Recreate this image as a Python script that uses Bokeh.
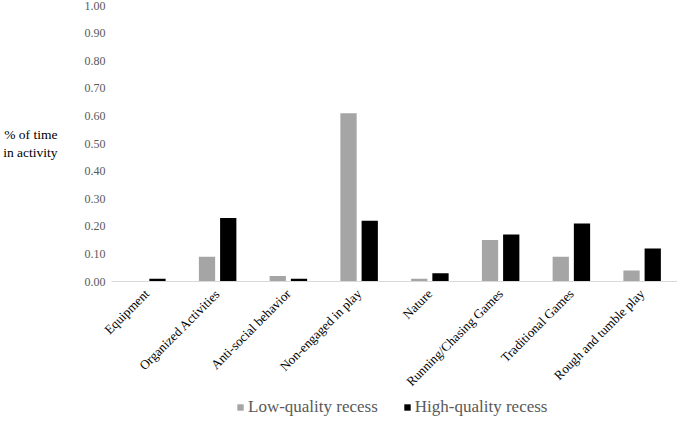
import math
from bokeh.plotting import figure
from bokeh.layouts import column
from bokeh.models import (FactorRange, Range1d, ColumnDataSource, Legend, LegendItem,
                          FixedTicker, PrintfTickFormatter)
from bokeh.transform import dodge
from bokeh.embed import file_html
from bokeh.resources import INLINE

categories = ["Equipment", "Organized Activities", "Anti-social behavior", "Non-engaged in play",
              "Nature", "Running/Chasing Games", "Traditional Games", "Rough and tumble play"]
low_quality = [0.00, 0.09, 0.02, 0.61, 0.01, 0.15, 0.09, 0.04]
high_quality = [0.01, 0.23, 0.01, 0.22, 0.03, 0.17, 0.21, 0.12]
y_ticks = [0.0, 0.1, 0.2, 0.3, 0.4, 0.5, 0.6, 0.7, 0.8, 0.9, 1.0]
series_names = ["Low-quality recess", "High-quality recess"]
series_colors = ["#A5A5A5", "#000000"]
y_title = "% of time\nin activity"

FONT = "Liberation Serif"

src = ColumnDataSource(dict(cat=categories, low=low_quality, high=high_quality))

p = figure(x_range=FactorRange(factors=categories), y_range=Range1d(0, 1.0),
           width=677, height=397, output_backend="svg", toolbar_location=None,
           min_border_left=107, min_border_right=0, min_border_top=5, min_border_bottom=113)
p.outline_line_color = None
p.xgrid.grid_line_color = None
p.ygrid.grid_line_color = None

p.vbar(x=dodge("cat", -0.15, range=p.x_range), top="low", width=0.23,
       source=src, color=series_colors[0], line_color=None)
p.vbar(x=dodge("cat", 0.15, range=p.x_range), top="high", width=0.23,
       source=src, color=series_colors[1], line_color=None)

xa = p.xaxis[0]
xa.axis_line_color = "#D9D9D9"
xa.axis_line_width = 1
xa.major_tick_line_color = None
xa.minor_tick_line_color = None
xa.major_tick_out = 0
xa.major_tick_in = 0
xa.major_label_orientation = math.pi / 4
xa.major_label_standoff = 10
xa.major_label_text_font = FONT
xa.major_label_text_font_size = "13px"
xa.major_label_text_color = "#000000"

ya = p.yaxis[0]
ya.ticker = FixedTicker(ticks=y_ticks)
ya.formatter = PrintfTickFormatter(format="%.2f")
ya.axis_line_color = None
ya.major_tick_line_color = None
ya.minor_tick_line_color = None
ya.major_tick_out = 0
ya.major_tick_in = 0
ya.major_label_standoff = 6
ya.major_label_text_font = FONT
ya.major_label_text_font_size = "12px"
ya.major_label_text_color = "#595959"
ya.axis_label = y_title
ya.axis_label_orientation = "horizontal"
ya.axis_label_standoff = 24
ya.axis_label_text_font = FONT
ya.axis_label_text_font_size = "13.5px"
ya.axis_label_text_font_style = "normal"
ya.axis_label_text_color = "#000000"
ya.axis_label_text_align = "left"

# legend strip underneath (its bars lie outside its visible y range)
p2 = figure(width=677, height=20, output_backend="svg", toolbar_location=None,
            x_range=FactorRange(factors=categories), y_range=Range1d(2, 3),
            min_border_left=107, min_border_right=0, min_border_top=0, min_border_bottom=0)
p2.outline_line_color = None
p2.xgrid.grid_line_color = None
p2.ygrid.grid_line_color = None
p2.xaxis.visible = False
p2.yaxis.visible = False
k_low = p2.vbar(x="cat", top="low", width=0.1, source=src,
                color=series_colors[0], line_color=None)
k_high = p2.vbar(x="cat", top="high", width=0.1, source=src,
                 color=series_colors[1], line_color=None)

legend = Legend(items=[LegendItem(label=series_names[0], renderers=[k_low]),
                       LegendItem(label=series_names[1], renderers=[k_high])],
                orientation="horizontal", location=(125, 0),
                label_text_font=FONT, label_text_font_size="17px", label_text_color="#595959",
                glyph_width=8, glyph_height=8, spacing=25, label_standoff=4, label_height=20,
                border_line_color=None, background_fill_alpha=0, padding=0, margin=0)
p2.add_layout(legend, "center")

open("out.html", "w").write(file_html(column(p, p2, spacing=0), INLINE))
